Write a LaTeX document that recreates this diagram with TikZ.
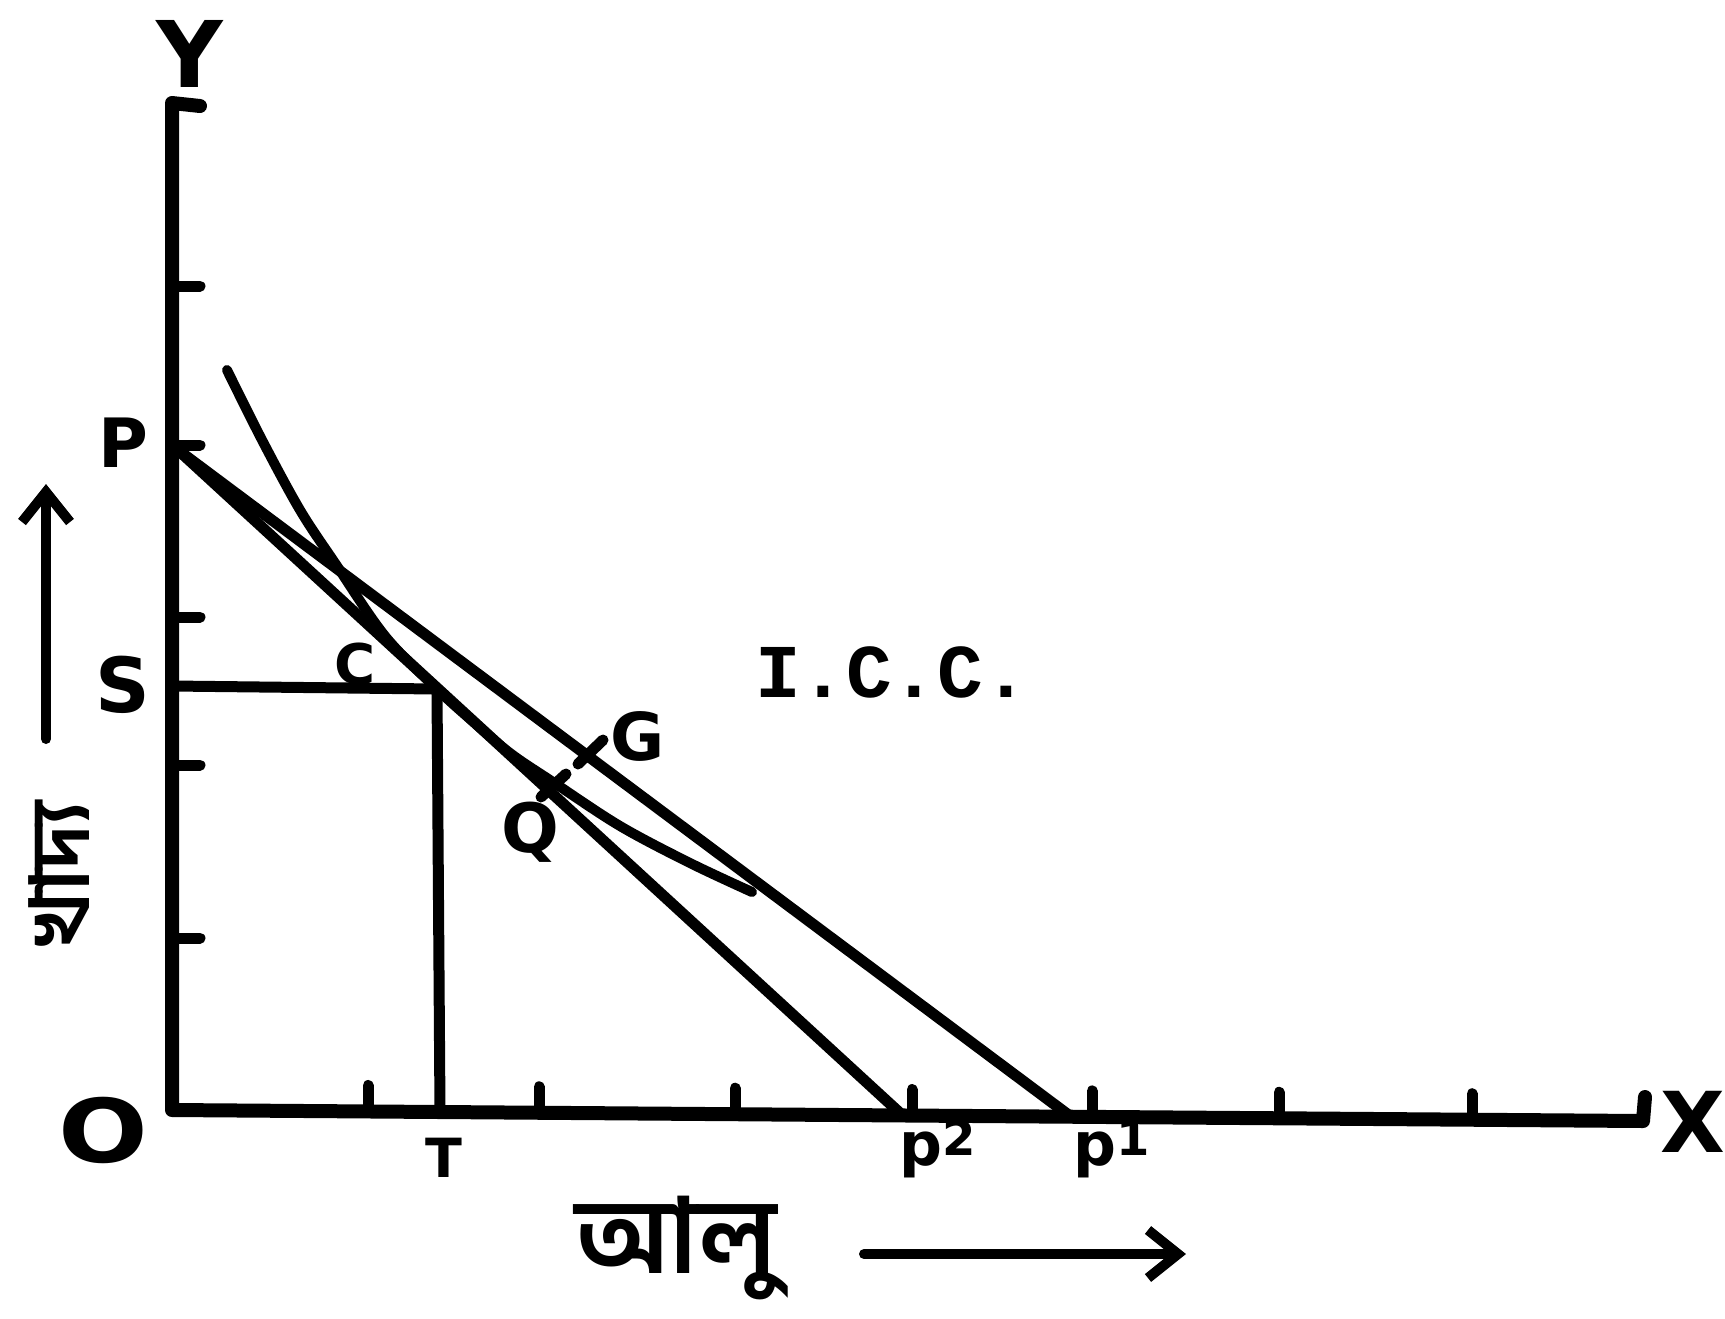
\documentclass[tikz,border=0pt]{standalone}
\usepackage{fontspec}
\usepackage{graphicx}
\usetikzlibrary{arrows.meta}
\setmainfont{DejaVu Sans}
\newfontfamily\bn[Script=Bengali]{Hind Siliguri}
\newfontfamily\tw{Liberation Mono}
\begin{document}
\begin{tikzpicture}[x=0.5pt,y=-0.5pt, line cap=round, line join=round,
  axisline/.style={line width=7pt},
  budget/.style={line width=5.5pt},
  guide/.style={line width=5.5pt},
  iccurve/.style={line width=5pt},
  tickmark/.style={line width=5.5pt},
  lbl/.style={inner sep=0pt, font=\bfseries},
  arr/.style={line width=5pt, -{Straight Barb[length=15pt,width=24pt,line width=5pt]}}]
\useasboundingbox (0,0) rectangle (1725,1318);
% axes
\coordinate (Yhook) at (200,106);
\coordinate (Ytop) at (172,103);
\coordinate (O) at (172,1110);
\coordinate (Xend) at (1643,1121);
\coordinate (Xhook) at (1645,1097);
\draw[axisline] (Yhook) -- (Ytop) -- (O) -- (Xend) -- (Xhook);
% y ticks
\foreach \yy in {286,445,617,765,938} \draw[tickmark] (172,\yy) -- (200,\yy);
% x ticks
\foreach \xx in {368,539,735,912,1092,1279,1472}
  \draw[tickmark] ({\xx},{1110+(\xx-172)*11/1471}) -- ({\xx},{1084+(\xx-172)*11/1471});
% points
\coordinate (P) at (178,450);
\coordinate (P2) at (900,1113);
\coordinate (P1) at (1070,1116);
\coordinate (S) at (172,686);
\coordinate (C) at (437,689);
\coordinate (T) at (440,1112);
% budget lines
\draw[budget] (P) -- (P2);
\draw[budget] (P) -- (P1);
% S-C-T guides
\draw[guide] (S) -- (C) -- (T);
% indifference curve
\draw[iccurve] plot[smooth, tension=0.55] coordinates {(227,370) (262,440) (300,510) (335,563) (385,636) (437,689) (470,719) (510,753) (553,782) (620,826) (690,863) (752,892)};
% G and Q marks
\coordinate (Ga) at (578,764); \coordinate (Gb) at (603,740);
\coordinate (Qa) at (541,797); \coordinate (Qb) at (566,774);
\draw[tickmark] (Ga) -- (Gb);
\draw[tickmark] (Qa) -- (Qb);
% labels
\node[lbl, font=\fontsize{46}{46}\selectfont\bfseries] (lY) at (190,54) {Y};
\node[lbl, font=\fontsize{34}{34}\selectfont\bfseries] (lP) at (123,443) {P};
\node[lbl, font=\fontsize{38}{38}\selectfont\bfseries] (lS) at (123,685) {S};
\node[lbl, font=\fontsize{44}{44}\selectfont\bfseries, xscale=1.2] (lO) at (103,1130) {O};
\node[lbl, font=\fontsize{27}{27}\selectfont\bfseries] (lT) at (444,1158) {T};
\node[lbl, font=\fontsize{42}{42}\selectfont\bfseries] (lX) at (1693,1122) {X};
\node[lbl, font=\fontsize{33}{33}\selectfont\bfseries] (lG) at (638,736) {G};
\node[lbl, font=\fontsize{34}{34}\selectfont\bfseries] (lQ) at (530,832) {Q};
\node[lbl, font=\fontsize{28}{28}\selectfont\bfseries] (lC) at (355,664) {C};
\node[lbl, font=\fontsize{30}{30}\selectfont\bfseries, anchor=base] (lP2) at (938,1165) {p\raisebox{5pt}{\fontsize{24}{24}\selectfont 2}};
\node[lbl, font=\fontsize{30}{30}\selectfont\bfseries, anchor=base] (lP1) at (1112,1165) {p\raisebox{5pt}{\fontsize{24}{24}\selectfont 1}};
\node[lbl, font=\fontsize{38}{38}\selectfont\tw\bfseries] (lICC) at (892,672) {I.C.C.};
% axis captions
\node[lbl, rotate=90] (food) at (59,874) {\resizebox{72pt}{!}{\bn\bfseries খাদ্য}};
\node[lbl] (potato) at (676,1248) {\resizebox{100pt}{!}{\bn\bfseries আলু}};
\coordinate (a1) at (46,739); \coordinate (a2) at (46,484);
\draw[arr] (a1) -- (a2);
\coordinate (b1) at (864,1254); \coordinate (b2) at (1186,1254);
\draw[arr] (b1) -- (b2);
\end{tikzpicture}
\end{document}
